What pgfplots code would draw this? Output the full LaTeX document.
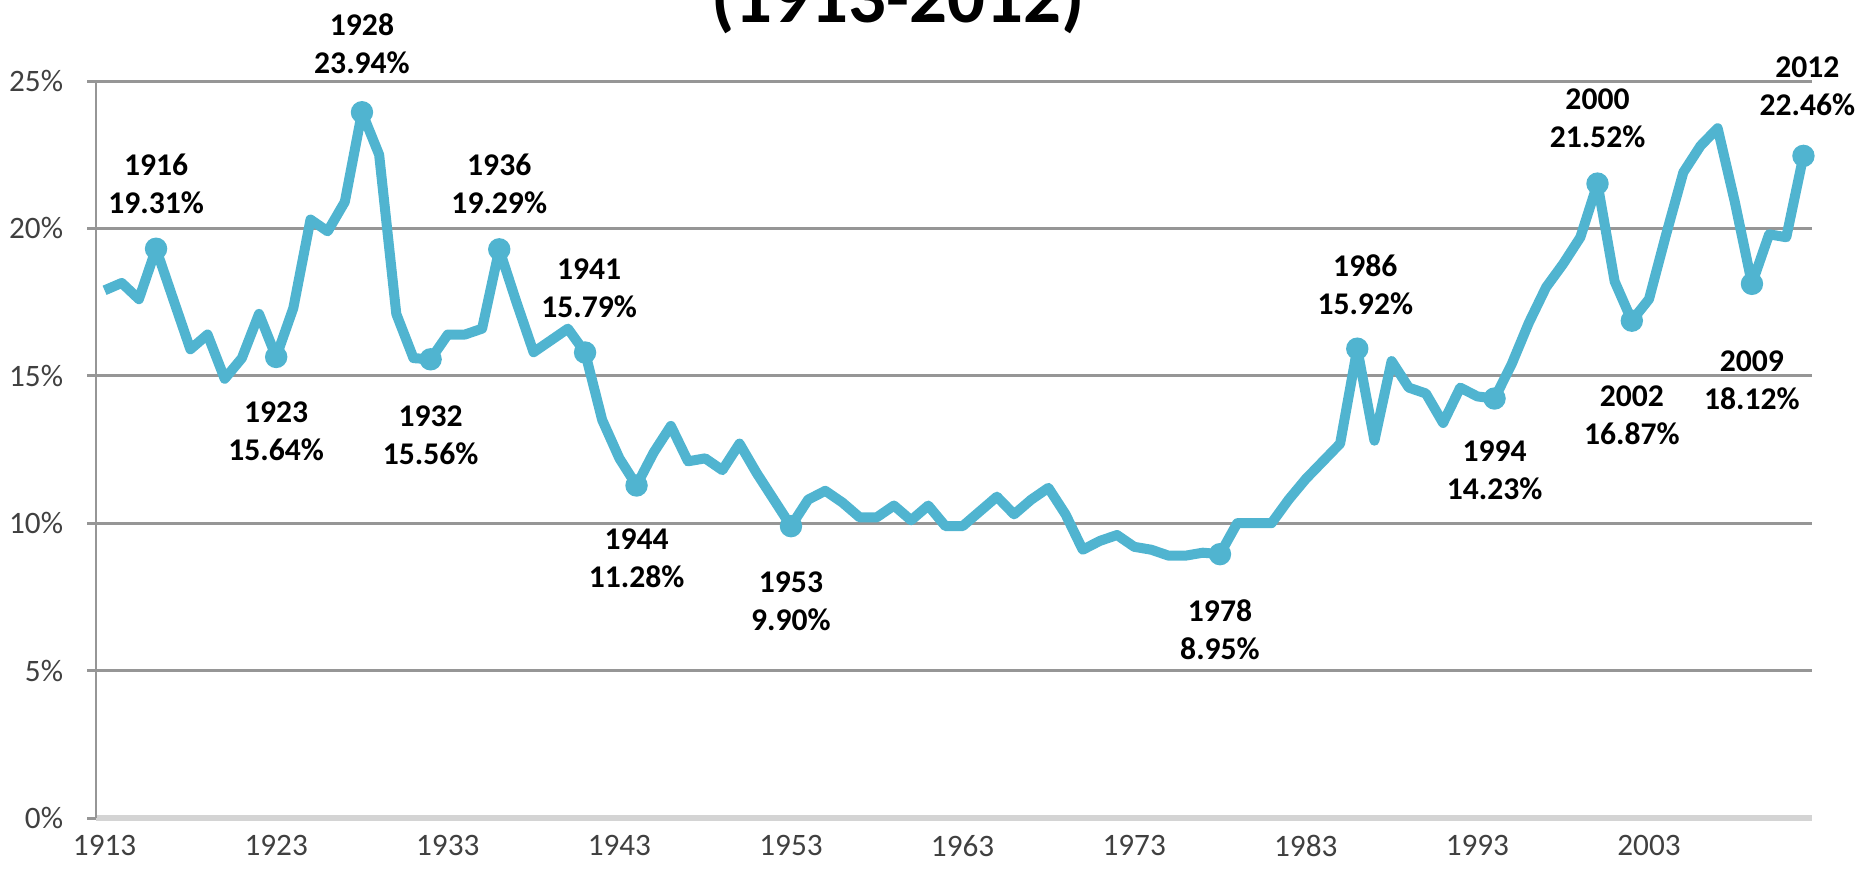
\documentclass[border=0pt]{standalone}
\usepackage{pgfplots}
\pgfplotsset{compat=1.18}
\usepackage{pgfplotstable}
\usepackage{fontspec}
\setmainfont{Carlito}
\definecolor{lineblue}{RGB}{80,180,208}
\definecolor{gridgray}{RGB}{150,150,150}
\definecolor{axisgray}{RGB}{212,212,212}
\definecolor{labelgray}{RGB}{64,64,64}

% share by year
\pgfplotstableread{
x y
1913 17.9
1914 18.15
1915 17.6
1916 19.31
1917 17.6
1918 15.9
1919 16.4
1920 14.9
1921 15.6
1922 17.1
1923 15.64
1924 17.3
1925 20.3
1926 19.9
1927 20.9
1928 23.94
1929 22.5
1930 17.1
1931 15.6
1932 15.56
1933 16.4
1934 16.4
1935 16.6
1936 19.29
1937 17.5
1938 15.8
1939 16.2
1940 16.6
1941 15.79
1942 13.5
1943 12.2
1944 11.28
1945 12.4
1946 13.3
1947 12.1
1948 12.2
1949 11.8
1950 12.7
1951 11.7
1952 10.8
1953 9.90
1954 10.8
1955 11.1
1956 10.7
1957 10.2
1958 10.2
1959 10.6
1960 10.1
1961 10.6
1962 9.9
1963 9.9
1964 10.4
1965 10.9
1966 10.3
1967 10.8
1968 11.2
1969 10.3
1970 9.1
1971 9.4
1972 9.6
1973 9.2
1974 9.1
1975 8.9
1976 8.9
1977 9.0
1978 8.95
1979 10.0
1980 10.0
1981 10.0
1982 10.8
1983 11.5
1984 12.1
1985 12.7
1986 15.92
1987 12.8
1988 15.5
1989 14.6
1990 14.4
1991 13.4
1992 14.6
1993 14.3
1994 14.23
1995 15.4
1996 16.8
1997 18.0
1998 18.8
1999 19.7
2000 21.52
2001 18.2
2002 16.87
2003 17.6
2004 19.8
2005 21.9
2006 22.8
2007 23.4
2008 20.9
2009 18.12
2010 19.8
2011 19.7
2012 22.46
}\sharetable

% labelled points: dy/dx = label offset in pt
\pgfplotstableread{
x y dy dx
1916 19.31 16.2 0
1923 15.64 -18.7 0
1928 23.94 17.2 0
1932 15.56 -19 0
1936 19.29 16.3 0
1941 15.79 16 1
1944 11.28 -18.2 0
1953 9.90 -18.8 0
1978 8.95 -19 0
1986 15.92 16 2
1994 14.23 -18 0
2000 21.52 16.4 0
2002 16.87 -23.6 0
2009 18.12 -24 0
2012 22.46 17.5 1
}\peaks

\begin{document}
\begin{tikzpicture}
\path[use as bounding box] (-24pt,-13.5pt) rectangle (441pt,204.5pt);
\begin{axis}[
  at={(0,0)}, anchor=south west,
  scale only axis, width=429pt, height=184.25pt,
  xmin=1912.5, xmax=2012.5, ymin=0, ymax=25,
  clip=false,
  axis x line*=bottom, axis y line*=left,
  x axis line style={draw=axisgray, line width=1.3pt, -},
  y axis line style={draw=gridgray, line width=0.5pt, -},
  ytick={0,5,10,15,20,25},
  yticklabels={0\%,5\%,10\%,15\%,20\%,25\%},
  xtick={1913,1923,1933,1943,1953,1963,1973,1983,1993,2003},
  xticklabels={1913,1923,1933,1943,1953,1963,1973,1983,1993,2003},
  extra x ticks={1912.5,1913.5,...,2012.5},
  extra x tick labels={},
  extra x tick style={major tick length=4pt,
    tick style={draw=axisgray, line width=0.8pt}},
  tick align=outside,
  x tick style={draw=none},
  y tick style={draw=gridgray, line width=0.75pt},
  major tick length=2.2pt,
  ymajorgrids,
  grid style={draw=gridgray, line width=0.75pt},
  tick label style={font=\fontsize{7.8}{9}\selectfont, text=labelgray},
  yticklabel style={xshift=-2.5pt},
  xticklabel style={yshift=1.5pt},
]
\addplot[color=lineblue, line width=2.5pt, line join=round, no marks]
  table[x=x, y=y] {\sharetable};
\addplot[only marks, mark=*, mark size=2.6pt, color=lineblue,
  point meta=explicit symbolic,
  visualization depends on={\thisrow{y} \as \pct},
  visualization depends on={\thisrow{dy} \as \dy},
  visualization depends on={\thisrow{dx} \as \dx},
  nodes near coords={\pgfplotspointmeta\\\pgfmathprintnumber[fixed, fixed zerofill, precision=2, assume math mode=true]{\pct}\%},
  nodes near coords style={anchor=center, align=center, text=black,
    font=\bfseries\fontsize{7.9}{9.5}\selectfont,
    yshift=\dy pt, xshift=\dx pt}]
  table[x=x, y=y, meta=x] {\peaks};
\end{axis}
\node[anchor=base, font=\bfseries\fontsize{18.7}{22}\selectfont] at (200.5pt,199pt) {(1913-2012)};
\end{tikzpicture}
\end{document}
